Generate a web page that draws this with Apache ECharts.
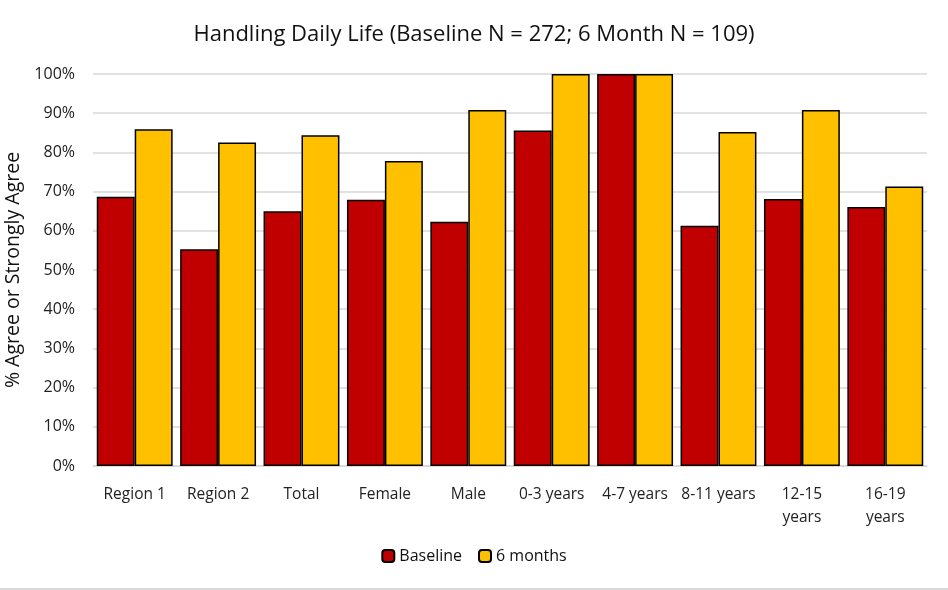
<!DOCTYPE html>
<html>
<head>
<meta charset="utf-8">
<script src="https://cdn.jsdelivr.net/npm/echarts@6/dist/echarts.min.js"></script>
<style>
  html, body { margin: 0; padding: 0; background: #fff; }
  #chart { width: 948px; height: 590px; }
</style>
</head>
<body>
<div id="chart"></div>
<script>
// categories along the x axis
var categories = ["Region 1", "Region 2", "Total", "Female", "Male", "0-3 years", "4-7 years", "8-11 years", "12-15\nyears", "16-19\nyears"];
// % agree or strongly agree
var baseline = [68.7, 55.3, 65.0, 67.9, 62.3, 85.6, 100, 61.3, 68.1, 66.1];
var sixMonths = [85.9, 82.5, 84.4, 77.8, 90.8, 100, 100, 85.2, 90.8, 71.3];

var font = "'Open Sans', 'Liberation Sans', sans-serif";

var chart = echarts.init(document.getElementById("chart"));

var option = {
  animation: false,
  textStyle: { fontFamily: font },
  title: {
    text: "Handling Daily Life (Baseline N = 272; 6 Month N = 109)",
    left: "center",
    top: 19,
    textStyle: { fontFamily: font, fontSize: 22, fontWeight: "normal", color: "#111" }
  },
  legend: {
    bottom: 21,
    left: "center",
    itemWidth: 12,
    itemHeight: 12,
    itemGap: 16,
    textStyle: { fontFamily: font, fontSize: 16, color: "#111" },
    data: ["Baseline", "6 months"]
  },
  grid: { left: 93, right: 21, top: 74, bottom: 124, containLabel: false, outerBoundsMode: "none" },
  xAxis: {
    type: "category",
    data: categories,
    axisTick: { show: false },
    axisLine: { lineStyle: { color: "#d9d9d9", width: 1.5 } },
    axisLabel: { color: "#222", fontSize: 15.5, margin: 17, lineHeight: 23, interval: 0 }
  },
  yAxis: {
    type: "value",
    min: 0,
    max: 100,
    interval: 10,
    name: "% Agree or Strongly Agree",
    nameLocation: "middle",
    nameGap: 70,
    nameTextStyle: { fontFamily: font, fontSize: 19.5, color: "#111" },
    axisLabel: { formatter: "{value}%", color: "#222", fontSize: 16, margin: 18 },
    axisLine: { show: false },
    splitLine: { lineStyle: { color: "#d9d9d9", width: 1.5 } }
  },
  series: [
    {
      name: "Baseline",
      type: "bar",
      data: baseline,
      barGap: "0%",
      barCategoryGap: "9%",
      itemStyle: { color: "#c00000", borderColor: "#000", borderWidth: 1.5 }
    },
    {
      name: "6 months",
      type: "bar",
      data: sixMonths,
      itemStyle: { color: "#ffc000", borderColor: "#000", borderWidth: 1.5 }
    }
  ],
  graphic: [
    { type: "rect", shape: { x: 0, y: 588, width: 948, height: 2 }, style: { fill: "#d9d9d9" } }
  ]
};

chart.setOption(option);
</script>
</body>
</html>
